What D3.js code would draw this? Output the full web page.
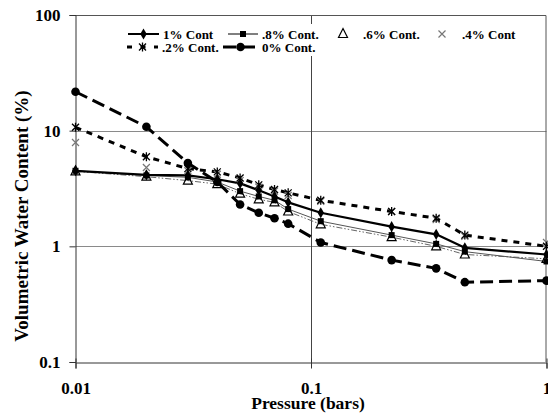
<!DOCTYPE html>
<html><head><meta charset="utf-8">
<script src="https://cdn.jsdelivr.net/npm/d3@7"></script>
<style>
body{margin:0;background:#fff;}
svg{display:block;}
svg text{font-family:'Liberation Serif','Tinos','DejaVu Serif','Times New Roman',serif !important;font-weight:bold;}
</style></head>
<body><svg id="c" width="548" height="413"></svg>
<script>
const pressure = [0.01,0.02,0.03,0.04,0.05,0.06,0.07,0.08,0.11,0.22,0.34,0.45,1];
const cont1  = [4.5,4.15,4.1,3.8,3.5,3.05,2.7,2.4,1.95,1.48,1.27,0.97,0.85];
const cont08 = [4.5,4.1,3.95,3.6,3.0,2.7,2.5,2.1,1.65,1.25,1.05,0.9,0.74];
const cont06 = [4.45,4.0,3.7,3.45,2.85,2.55,2.4,2.0,1.55,1.2,1.0,0.85,0.78];
const cont04 = [7.9,4.8,4.5,4.2,3.7,3.25,3.0,2.75,2.45,2.0,1.7,1.22,1.08];
const cont02 = [10.7,5.95,4.7,4.4,3.9,3.4,3.1,2.9,2.5,2.0,1.75,1.25,1.0];
const cont0  = [21.7,10.8,5.25,3.6,2.3,1.95,1.75,1.57,1.08,0.76,0.645,0.49,0.505];
const yTicks = [0.1,1,10,100];
const xTicks = [0.01,0.1,1];
const seriesNames = ["1% Cont",".8% Cont.",".6% Cont.",".4% Cont",".2% Cont.","0% Cont."];

const svg = d3.select("#c");
const L=75.5, R=546.5, T=15, B=362;
const x = d3.scaleLog().domain([0.01,1]).range([L,R]);
const y = d3.scaleLog().domain([0.1,100]).range([B,T]);

// gridlines
svg.append("g").selectAll("line").data([1,10]).join("line")
  .attr("x1",L).attr("x2",R).attr("y1",d=>Math.round(y(d))+0.5).attr("y2",d=>Math.round(y(d))+0.5)
  .attr("stroke","#8a8a8a").attr("stroke-width",1);
svg.append("line").attr("x1",Math.round(x(0.1))+0.5).attr("x2",Math.round(x(0.1))+0.5)
  .attr("y1",T).attr("y2",B).attr("stroke","#444").attr("stroke-width",1);
// border top/right
svg.append("path").attr("d",`M${L},${T+0.5}H${R-0.5}V${B}`).attr("fill","none").attr("stroke","#555").attr("stroke-width",1);

// axes
const ya = d3.axisLeft(y).tickValues(yTicks).tickSize(6).tickPadding(9)
  .tickFormat(d=>d>=1?d3.format("d")(d):String(d));
const gy = svg.append("g").attr("transform",`translate(${L},0)`).call(ya);
const xa = d3.axisBottom(x).tickValues(xTicks).tickSize(6).tickPadding(13)
  .tickFormat(d=>String(d));
const gx = svg.append("g").attr("transform",`translate(0,${B+0.5})`).call(xa);
[gy,gx].forEach(g=>{
  g.attr("font-family",null);
  g.selectAll("text").attr("font-size",17).attr("fill","#000");
  g.selectAll("line").attr("stroke","#333");
  g.select(".domain").attr("stroke","#333");
});
gx.selectAll(".tick line").attr("y1",-4);

// titles
svg.append("text").attr("x",(L+R)/2-3).attr("y",409).attr("text-anchor","middle")
  .attr("font-size",17.5).text("Pressure (bars)");
svg.append("text").attr("transform","translate(28,216) rotate(-90)").attr("text-anchor","middle")
  .attr("font-size",19).text("Volumetric Water Content (%)");

// series
const gen = d3.line().x(d=>x(d[0])).y(d=>y(d[1]));
const zip = v=>pressure.map((p,i)=>[p,v[i]]);
const plot = svg.append("g");

function drawLine(vals, w, dash, col){
  plot.append("path").attr("d",gen(zip(vals))).attr("fill","none")
    .attr("stroke",col).attr("stroke-width",w).attr("stroke-dasharray",dash)
    .attr("stroke-linejoin","round");
}
drawLine(cont06,1,"6,2,1.5,2,1.5,2","#666");
drawLine(cont08,1,null,"#555");
drawLine(cont02,3,"6,6","#000");
drawLine(cont0,3,"13,6","#000");
drawLine(cont1,2.2,null,"#000");

function marker(g, type){
  if(type==="diamond") g.append("path").attr("d",d3.symbol(d3.symbolDiamond,36)()).attr("fill","#000");
  if(type==="square") g.append("rect").attr("x",-3).attr("y",-3).attr("width",6).attr("height",6).attr("fill","#000");
  if(type==="triangle") g.append("path").attr("d","M0,-5.5L4.5,3.5L-4.5,3.5Z").attr("fill","#fff").attr("fill-opacity",0).attr("stroke","#000").attr("stroke-width",1.2);
  if(type==="x") g.append("path").attr("d","M-3.5,-3.5L3.5,3.5M-3.5,3.5L3.5,-3.5").attr("stroke","#777").attr("stroke-width",1.2);
  if(type==="star") g.append("path").attr("d","M-3.5,-3.5L3.5,3.5M-3.5,3.5L3.5,-3.5M0,-4.5V4.5").attr("stroke","#000").attr("stroke-width",1.3);
  if(type==="circle") g.append("circle").attr("r",4.3).attr("fill","#000");
}
function drawMarkers(vals,type){
  zip(vals).forEach(d=>{
    const g = plot.append("g").attr("transform",`translate(${x(d[0])},${y(d[1])})`);
    marker(g,type);
  });
}
drawMarkers(cont04,"x");
drawMarkers(cont02,"star");
drawMarkers(cont06,"triangle");
drawMarkers(cont08,"square");
drawMarkers(cont0,"circle");
drawMarkers(cont1,"diamond");

// legend
const lg = svg.append("g");
lg.append("rect").attr("x",122).attr("y",24).attr("width",400).attr("height",32).attr("fill","#fff");
const items = [
  {name:seriesNames[0],x:128,y:34,len:31,w:2,dash:null,m:"diamond"},
  {name:seriesNames[1],x:228,y:34,len:30,w:1,dash:null,m:"square"},
  {name:seriesNames[2],x:333,y:34,len:20,w:0,dash:null,m:"triangle"},
  {name:seriesNames[3],x:432,y:34,len:20,w:0,dash:null,m:"x"},
  {name:seriesNames[4],x:127,y:47,len:31,w:3,dash:"5,8.5",m:"star"},
  {name:seriesNames[5],x:223,y:47,len:35,w:3,dash:"13,6",m:"circle"}
];
items.forEach(it=>{
  if(it.w>0) lg.append("line").attr("x1",it.x).attr("x2",it.x+it.len).attr("y1",it.y).attr("y2",it.y)
    .attr("stroke","#000").attr("stroke-width",it.w).attr("stroke-dasharray",it.dash);
  const g = lg.append("g").attr("transform",`translate(${it.x+it.len/2},${it.y})`);
  marker(g,it.m);
  lg.append("text").attr("x",it.x+it.len+(it.w>0?4:10)).attr("y",it.y+4.5).attr("font-size",13).text(it.name);
});
</script></body></html>
